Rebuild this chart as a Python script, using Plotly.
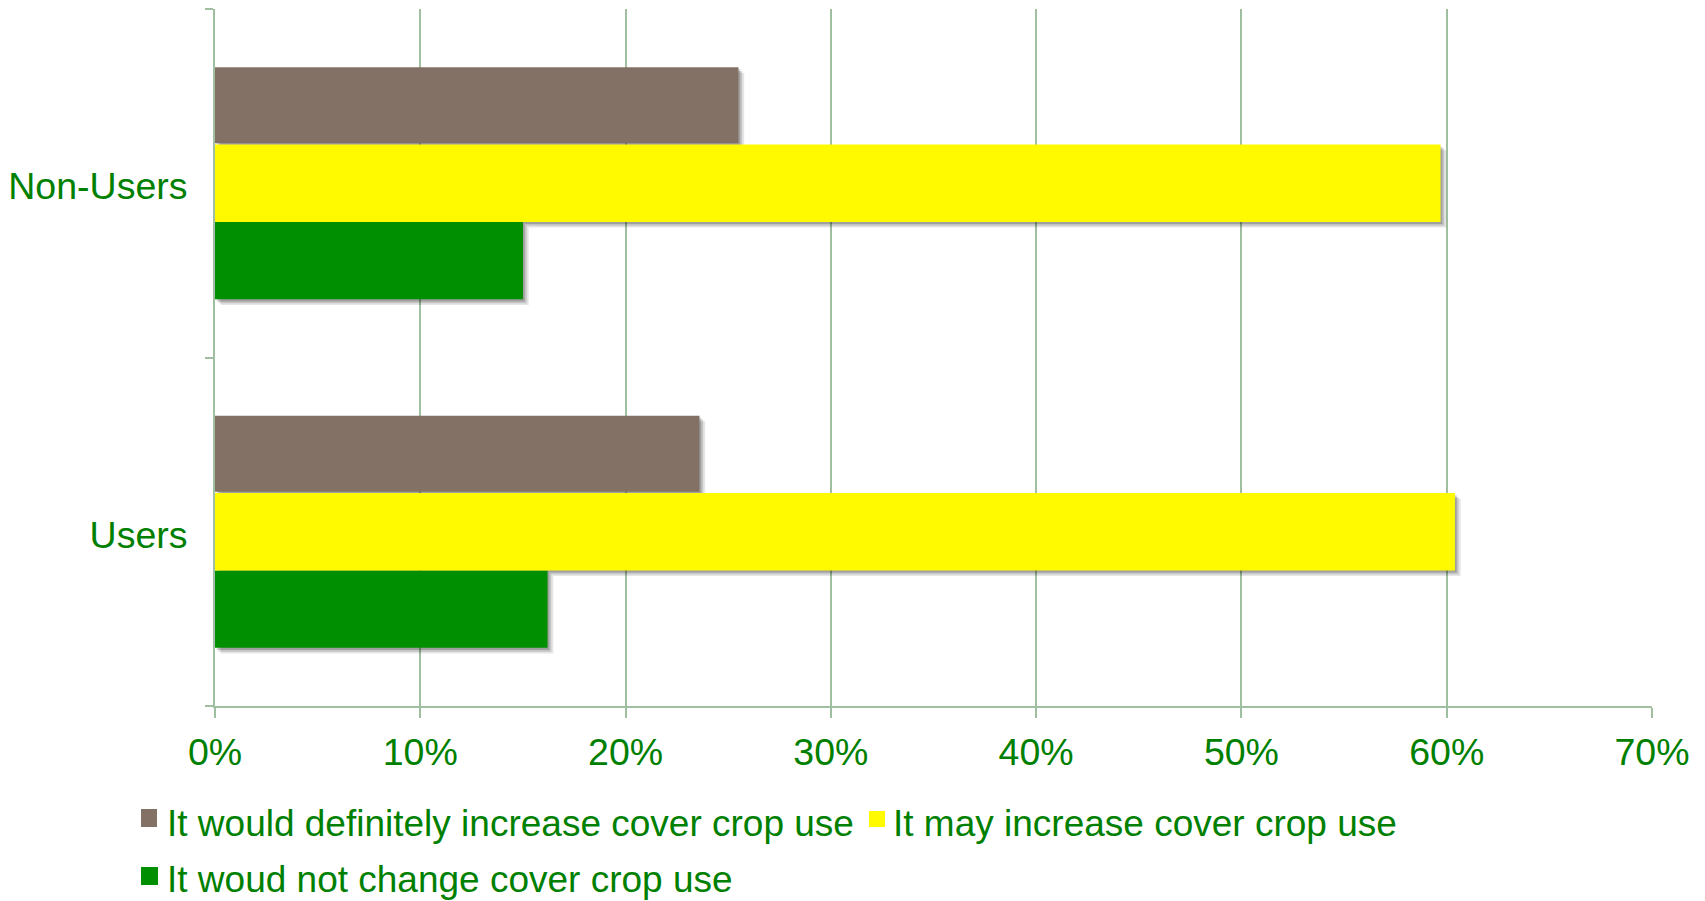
import plotly.graph_objects as go

# Survey groups (bottom to top on the chart)
groups = ["Users", "Non-Users"]

# Share of respondents per answer, in percent
definitely_increase = [23.6, 25.5]
may_increase = [60.4, 59.7]
no_change = [16.2, 15.0]

series_names = [
    "It would definitely increase cover crop use",
    "It may increase cover crop use",
    "It woud not change cover crop use",
]
x_ticks = [0, 10, 20, 30, 40, 50, 60, 70]
x_tick_labels = [f"{t}%" for t in x_ticks]

BROWN = "rgb(132,113,102)"
YELLOW = "rgb(255,250,0)"
GREEN = "rgb(0,143,0)"
TEXT = "rgb(0,128,0)"
GRID = "rgb(160,190,160)"
FONT = "Liberation Sans, Arial, Helvetica, sans-serif"
FS = 37.5
LEGEND_FS = 37

# Figure geometry (pixels)
FIG_W, FIG_H = 1705, 901
L, R, T, B = 215, 53, 9, 195
PW, PH = FIG_W - L - R, FIG_H - T - B


def px_x(p):
    return (p - L) / PW


def px_y(p):
    return (T + PH - p) / PH


# Bar slots inside each category band (category units, upward)
slots = [
    (no_change, GREEN, -0.333, 0.222),
    (may_increase, YELLOW, -0.111, 0.222),
    (definitely_increase, BROWN, 0.115, 0.218),
]

fig = go.Figure()

# Soft drop shadows: a few faint layers shifted right and down
for shift_x, shift_y, alpha in [(0.28, 0.016, 0.10), (0.18, 0.011, 0.14), (0.09, 0.006, 0.18)]:
    for values, _, off, w in slots:
        fig.add_trace(go.Bar(
            y=groups, x=values, base=shift_x, orientation="h",
            offset=off - shift_y, width=w,
            marker=dict(color=f"rgba(0,0,0,{alpha})", line=dict(width=0)),
            showlegend=False, hoverinfo="skip",
        ))

for (values, color, off, w), name in zip(slots, [series_names[2], series_names[1], series_names[0]]):
    fig.add_trace(go.Bar(
        y=groups, x=values, orientation="h", name=name,
        offset=off, width=w,
        marker=dict(color=color, line=dict(width=0)),
        showlegend=False,
    ))

# Legend drawn as swatches + labels under the plot
legend_items = [
    # (swatch x0, x1, y0, y1, text x, text center y, color, label)
    (141, 157, 809, 827, 165, 823, BROWN, series_names[0]),
    (869, 885, 811, 827, 891, 823, YELLOW, series_names[1]),
    (141, 158, 867, 885, 165, 880, GREEN, series_names[2]),
]
shapes, annotations = [], []
for x0, x1, y0, y1, tx, ty, color, label in legend_items:
    shapes.append(dict(
        type="rect", xref="paper", yref="paper",
        x0=px_x(x0), x1=px_x(x1), y0=px_y(y1), y1=px_y(y0),
        fillcolor=color, line=dict(width=0),
    ))
    annotations.append(dict(
        xref="paper", yref="paper", x=px_x(tx), y=px_y(ty),
        xanchor="left", yanchor="middle", showarrow=False,
        text=label, font=dict(family=FONT, size=LEGEND_FS, color=TEXT),
    ))

fig.update_layout(
    width=FIG_W, height=FIG_H,
    margin=dict(l=L, r=R, t=T, b=B),
    paper_bgcolor="white", plot_bgcolor="white",
    barmode="overlay",
    font=dict(family=FONT, size=FS, color=TEXT),
    shapes=shapes, annotations=annotations,
    xaxis=dict(
        range=[0, 70], tickvals=x_ticks, ticktext=x_tick_labels,
        showgrid=True, gridcolor=GRID, gridwidth=2,
        zeroline=False, showline=True, linecolor=GRID, linewidth=2,
        ticks="outside", ticklen=10, tickwidth=2, tickcolor=GRID,
        tickfont=dict(family=FONT, size=FS, color=TEXT),
        ticklabelstandoff=2,
    ),
    yaxis=dict(
        type="category", categoryorder="array", categoryarray=groups,
        range=[-0.5, 1.5],
        showgrid=False, zeroline=False,
        showline=True, linecolor=GRID, linewidth=2,
        ticks="outside", tickson="boundaries", ticklen=8, tickwidth=2, tickcolor=GRID,
        tickfont=dict(family=FONT, size=FS, color=TEXT),
        ticklabelstandoff=18, ticklabelshift=3,
    ),
)

fig.write_html("out.html")
